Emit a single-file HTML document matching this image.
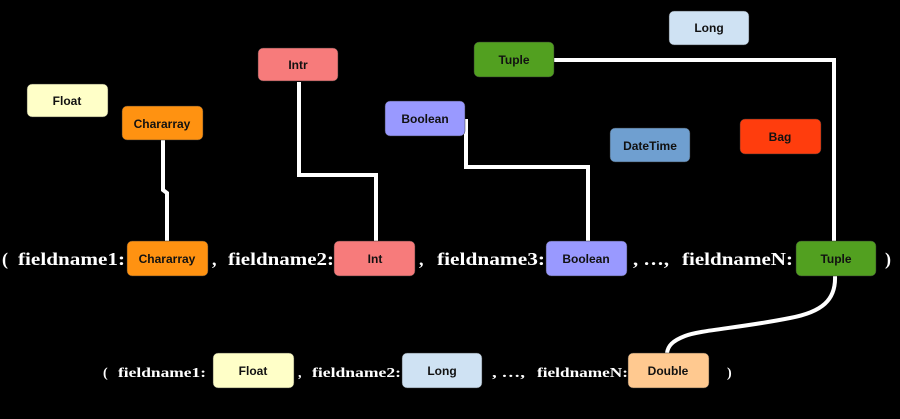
<!DOCTYPE html>
<html><head><meta charset="utf-8"><style>
html,body{margin:0;padding:0;background:#000;width:900px;height:419px;overflow:hidden}
svg{display:block}
.b{font-family:"Liberation Sans",sans-serif;font-weight:bold;font-size:12px;fill:#111;text-anchor:middle}
.t{font-family:"Liberation Serif",serif;font-weight:bold;fill:#fff}
</style></head><body>
<svg width="900" height="419" viewBox="0 0 900 419">
<g fill="none" stroke="#fff" stroke-width="4">
<polyline points="163,140 163,190 167,193 167,241"/>
<polyline points="299,82 299,175 376,175 376,241"/>
<polyline points="466,119 466,167 588,167 588,241"/>
<polyline points="554,60 834,60 834,241"/>
<path d="M835,276 C836,300 822,312 790,318 C740,328 700,330 685,336 C672,341 668,346 667,353"/>
</g>
<g stroke="#333" stroke-width="0.5">
<rect x="669" y="11" width="80" height="34" rx="5" fill="#cfe2f3"/>
<rect x="474" y="42" width="80" height="35" rx="5" fill="#52a020"/>
<rect x="258" y="48" width="80" height="33" rx="5" fill="#f77b7b"/>
<rect x="27" y="84" width="81" height="33" rx="5" fill="#ffffc8"/>
<rect x="122" y="106" width="81" height="34" rx="5" fill="#ff9211"/>
<rect x="385" y="101" width="80" height="35" rx="5" fill="#9999ff"/>
<rect x="610" y="128" width="80" height="34" rx="5" fill="#6f9fd0"/>
<rect x="740" y="119" width="81" height="35" rx="5" fill="#ff3d0d"/>
<rect x="127" y="241" width="81" height="35" rx="5" fill="#ff9211"/>
<rect x="334" y="241" width="81" height="35" rx="5" fill="#f77b7b"/>
<rect x="546" y="241" width="81" height="35" rx="5" fill="#9999ff"/>
<rect x="796" y="241" width="80" height="35" rx="5" fill="#52a020"/>
<rect x="213" y="353" width="81" height="35" rx="5" fill="#ffffc8"/>
<rect x="402" y="353" width="80" height="35" rx="5" fill="#cfe2f3"/>
<rect x="628" y="353" width="81" height="35" rx="5" fill="#ffc990"/>
</g>
<g class="b">
<text x="709" y="32">Long</text>
<text x="514" y="64">Tuple</text>
<text x="298" y="69">Intr</text>
<text x="67" y="105">Float</text>
<text x="162" y="128">Chararray</text>
<text x="425" y="123">Boolean</text>
<text x="650" y="150">DateTime</text>
<text x="780" y="141">Bag</text>
<text x="167" y="263">Chararray</text>
<text x="375" y="263">Int</text>
<text x="586" y="263">Boolean</text>
<text x="836" y="263">Tuple</text>
<text x="253" y="375">Float</text>
<text x="442" y="375">Long</text>
<text x="668" y="375">Double</text>
</g>
<g class="t" font-size="18">
<text x="2" y="265">(</text>
<text x="18" y="265" textLength="107" lengthAdjust="spacingAndGlyphs">fieldname1:</text>
<text x="212" y="265">,</text>
<text x="228" y="265" textLength="106" lengthAdjust="spacingAndGlyphs">fieldname2:</text>
<text x="419" y="265">,</text>
<text x="437" y="265" textLength="108" lengthAdjust="spacingAndGlyphs">fieldname3:</text>
<text x="633" y="265" textLength="36" lengthAdjust="spacingAndGlyphs">, …,</text>
<text x="682" y="265" textLength="111" lengthAdjust="spacingAndGlyphs">fieldnameN:</text>
<text x="885" y="265">)</text>
</g>
<g class="t" font-size="14">
<text x="103" y="377">(</text>
<text x="118" y="377" textLength="88" lengthAdjust="spacingAndGlyphs">fieldname1:</text>
<text x="298" y="377">,</text>
<text x="312" y="377" textLength="89" lengthAdjust="spacingAndGlyphs">fieldname2:</text>
<text x="492" y="377" textLength="33" lengthAdjust="spacingAndGlyphs">, …,</text>
<text x="537" y="377" textLength="91" lengthAdjust="spacingAndGlyphs">fieldnameN:</text>
<text x="727" y="377">)</text>
</g>
</svg>
</body></html>
